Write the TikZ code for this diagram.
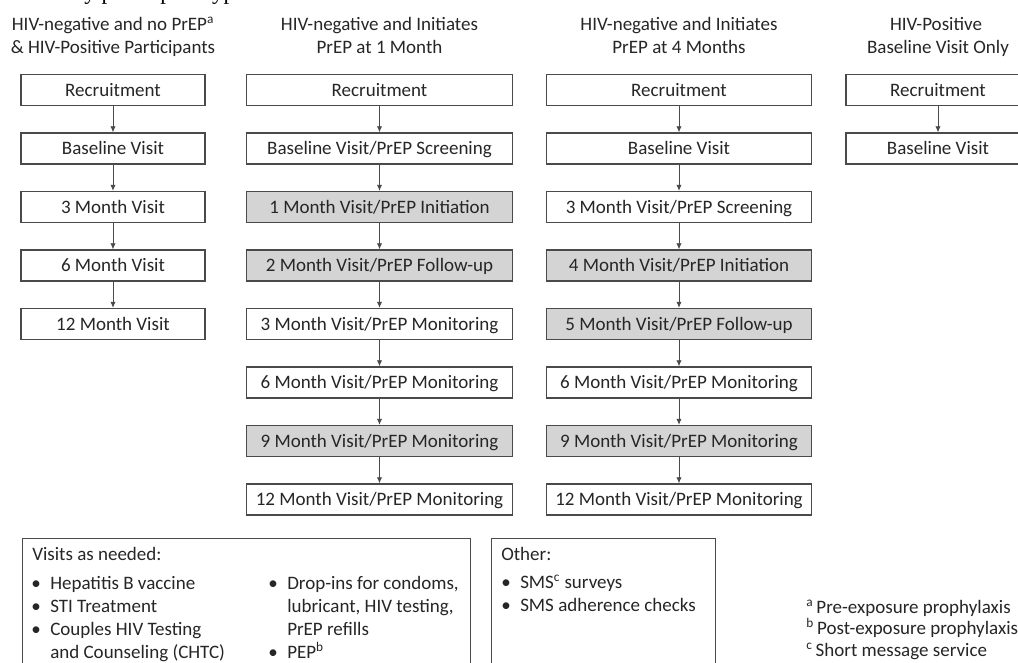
\documentclass[tikz,border=0pt]{standalone}
\usepackage{fontspec}
\setmainfont{Carlito}
\newfontfamily\titleserif{Liberation Serif}
\usetikzlibrary{arrows.meta}
\definecolor{boxline}{HTML}{4A4A4A}
\definecolor{txt}{HTML}{262626}
\definecolor{shade}{HTML}{D4D4D4}
\begin{document}
\begin{tikzpicture}[x=0.75pt,y=-0.75pt,
  every node/.style={text=txt, font=\fontsize{14.25}{17}\selectfont, inner sep=0pt},
  visit/.style={draw=boxline, line width=0.9pt, fill=white, minimum height=23.25pt,
                text height=11.2pt, text depth=2pt},
  narrowbox/.style={visit, minimum width=138pt},
  widebox/.style={visit, minimum width=199pt},
  shaded/.style={fill=shade},
  arr/.style={draw=boxline, line width=0.7pt, -{Latex[length=4.6pt,width=4pt]}},
  hdr/.style={anchor=base},
  txtl/.style={anchor=base west},
  panel/.style={draw=boxline, line width=0.9pt, anchor=north west, minimum height=120pt},
]
\useasboundingbox (0,0) rectangle (1018,662);
\clip (0,0) rectangle (1018,662);
\fill[white] (0,0) rectangle (1018,662);

% cut-off title
\node[anchor=base west, text=black, font=\titleserif\fontsize{17.25}{20}\selectfont] (title) at (84,-0.3) {y participant types};

% headers
\node[hdr] (h1a) at (113,30.5) {HIV-negative and no PrEP\textsuperscript{a}};
\node[hdr] (h1b) at (113,53) {\& HIV-Positive Participants};
\node[hdr] (h2a) at (379.5,30.5) {HIV-negative and Initiates};
\node[hdr] (h2b) at (379.5,53) {PrEP at 1 Month};
\node[hdr] (h3a) at (679,30.5) {HIV-negative and Initiates};
\node[hdr] (h3b) at (679,53) {PrEP at 4 Months};
\node[hdr] (h4a) at (936,30.5) {HIV-Positive};
\node[hdr] (h4b) at (938,53) {Baseline Visit Only};

% column 1
\node[narrowbox] (c1r0) at (113,90)    {Recruitment};
\node[narrowbox] (c1r1) at (113,148.5) {Baseline Visit};
\node[narrowbox] (c1r2) at (113,207)   {3 Month Visit};
\node[narrowbox] (c1r3) at (113,265.5) {6 Month Visit};
\node[narrowbox] (c1r4) at (113,324)   {12 Month Visit};

% column 2
\node[widebox] (c2r0) at (379.5,90)    {Recruitment};
\node[widebox] (c2r1) at (379.5,148.5) {Baseline Visit/PrEP Screening};
\node[widebox,shaded] (c2r2) at (379.5,207)   {1 Month Visit/PrEP Initiation};
\node[widebox,shaded] (c2r3) at (379.5,265.5) {2 Month Visit/PrEP Follow-up};
\node[widebox] (c2r4) at (379.5,324)   {3 Month Visit/PrEP Monitoring};
\node[widebox] (c2r5) at (379.5,382.5) {6 Month Visit/PrEP Monitoring};
\node[widebox,shaded] (c2r6) at (379.5,441)   {9 Month Visit/PrEP Monitoring};
\node[widebox] (c2r7) at (379.5,499.5) {12 Month Visit/PrEP Monitoring};

% column 3
\node[widebox] (c3r0) at (679,90)    {Recruitment};
\node[widebox] (c3r1) at (679,148.5) {Baseline Visit};
\node[widebox] (c3r2) at (679,207)   {3 Month Visit/PrEP Screening};
\node[widebox,shaded] (c3r3) at (679,265.5) {4 Month Visit/PrEP Initiation};
\node[widebox,shaded] (c3r4) at (679,324)   {5 Month Visit/PrEP Follow-up};
\node[widebox] (c3r5) at (679,382.5) {6 Month Visit/PrEP Monitoring};
\node[widebox,shaded] (c3r6) at (679,441)   {9 Month Visit/PrEP Monitoring};
\node[widebox] (c3r7) at (679,499.5) {12 Month Visit/PrEP Monitoring};

% column 4
\node[narrowbox] (c4r0) at (938,90)    {Recruitment};
\node[narrowbox] (c4r1) at (938,148.5) {Baseline Visit};

% arrows
\foreach \a/\b in {c1r0/c1r1,c1r1/c1r2,c1r2/c1r3,c1r3/c1r4,
                   c2r0/c2r1,c2r1/c2r2,c2r2/c2r3,c2r3/c2r4,c2r4/c2r5,c2r5/c2r6,c2r6/c2r7,
                   c3r0/c3r1,c3r1/c3r2,c3r2/c3r3,c3r3/c3r4,c3r4/c3r5,c3r5/c3r6,c3r6/c3r7,
                   c4r0/c4r1}
  \draw[arr] (\a.south) -- (\b.north);

% bottom panels
\node[panel, minimum width=336pt] (visits) at (22,538) {};
\node[panel, minimum width=168pt] (other) at (491,538) {};

\node[txtl] (vt)  at (32,560)  {Visits as needed:};
\node[txtl] (vb1) at (31,589)  {•};
\node[txtl] (vi1) at (50,589)  {Hepatitis B vaccine};
\node[txtl] (vb2) at (31,612)  {•};
\node[txtl] (vi2) at (50,612)  {STI Treatment};
\node[txtl] (vb3) at (31,635)  {•};
\node[txtl] (vi3) at (50,635)  {Couples HIV Testing};
\node[txtl] (vi3b) at (50,658) {and Counseling (CHTC)};
\node[txtl] (vb4) at (268,589) {•};
\node[txtl] (vi4) at (287,589) {Drop-ins for condoms,};
\node[txtl] (vi4b) at (287,612) {lubricant, HIV testing,};
\node[txtl] (vi4c) at (287,635) {PrEP refills};
\node[txtl] (vb5) at (268,658) {•};
\node[txtl] (vi5) at (287,658) {PEP\textsuperscript{b}};

\node[txtl] (ot)  at (501,560) {Other:};
\node[txtl] (ob1) at (501,588) {•};
\node[txtl] (oi1) at (520,588) {SMS\textsuperscript{c} surveys};
\node[txtl] (ob2) at (501,611) {•};
\node[txtl] (oi2) at (520,611) {SMS adherence checks};

% footnotes
\node[txtl] (fa) at (806,613)   {\textsuperscript{a}\,Pre-exposure prophylaxis};
\node[txtl] (fb) at (806,634.5) {\textsuperscript{b}\,Post-exposure prophylaxis};
\node[txtl] (fc) at (806,656.5) {\textsuperscript{c}\,Short message service};
\end{tikzpicture}
\end{document}
